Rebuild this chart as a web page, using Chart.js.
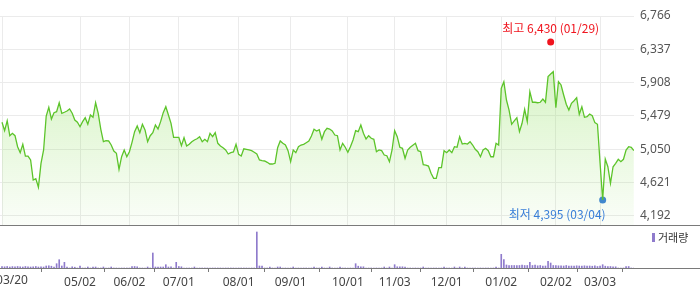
<!DOCTYPE html>
<html>
<head>
<meta charset="utf-8">
<script src="https://cdn.jsdelivr.net/npm/chart.js@4/dist/chart.umd.min.js"></script>
<style>
  body { margin: 0; background: #fff; }
  #wrap { position: relative; width: 700px; height: 289px; overflow: hidden; }
  canvas { position: absolute; left: 0; display: block; }
  #priceChart { top: 0; }
  #volChart { top: 226px; }
</style>
</head>
<body>
<div id="wrap">
  <canvas id="priceChart" width="700" height="226"></canvas>
  <canvas id="volChart" width="700" height="63"></canvas>
</div>
<script>
// daily close, 2025-03-20 .. 2026-03-20 (trading days)
var prices = [
  5396,5288,5416,5223,5254,5223,5081,5004,5112,4961,4961,4910,
  4652,4669,4558,4867,5039,5477,5589,5438,5520,5532,5648,5512,
  5525,5541,5567,5512,5425,5396,5339,5404,5455,5370,5490,5460,
  5648,5512,5306,5146,5159,5155,5103,5026,4996,4790,4952,5039,
  4952,5017,5138,5275,5348,5262,5370,5297,5146,5223,5262,5361,
  5309,5404,5520,5597,5490,5383,5202,5202,5202,5094,5197,5090,
  5112,5146,5168,5184,5210,5146,5177,5146,5254,5210,5262,5125,
  5090,5068,5039,4987,5004,5013,5112,4983,4961,5055,5048,5039,
  5030,5009,4987,4910,4901,4897,4880,4858,4858,4867,5068,5155,
  5125,5103,5030,4888,5039,5004,5081,5103,5112,5133,5155,5219,
  5306,5284,5300,5177,5275,5318,5309,5284,5232,5223,5039,5125,
  5074,5009,5081,5168,5288,5275,5361,5254,5181,5223,5190,5177,
  5017,5039,5030,4974,4965,4888,5039,5288,5210,5074,5061,4932,
  5039,5074,5099,5125,5030,5017,4849,4845,4832,4738,4674,4674,
  4811,4811,5030,5004,5039,5004,5081,5074,5210,5116,5125,5116,
  5146,5103,5048,5017,4952,5039,5061,5030,4952,4952,5125,5103,
  5834,5919,5683,5554,5370,5413,5455,5275,5383,5563,5404,5790,
  5654,5654,5648,5654,5696,5654,5984,6018,6048,5584,5919,5877,
  5748,5628,5554,5641,5674,5713,5499,5597,5460,5468,5503,5481,
  5391,5370,4871,4395,4923,4823,4609,4823,4867,4919,4888,4919,
  5039,5081,5074,5030
];
var volumes = [
  15000,12000,15000,10000,14000,12000,15000,12000,10000,15000,12000,10000,
  12000,15000,10000,12000,10000,20000,22000,18000,8000,43000,83000,20000,
  57000,10000,0,12000,8000,0,20000,0,0,10000,0,10000,
  10000,0,0,10000,0,0,10000,0,0,0,0,0,
  0,0,15000,15000,12000,0,0,0,10000,0,150000,10000,
  8000,10000,10000,33000,10000,12000,0,57000,15000,12000,0,0,
  0,0,10000,0,0,0,0,0,0,0,0,0,
  0,0,0,0,0,0,0,0,0,0,0,0,
  0,0,360000,20000,18000,0,0,10000,0,0,10000,10000,
  0,0,0,0,10000,0,0,0,0,0,0,0,
  10000,0,0,10000,0,0,10000,0,0,0,10000,0,
  0,0,0,0,43000,18000,12000,12000,0,0,0,0,
  0,0,0,10000,0,10000,0,33000,12000,12000,12000,10000,
  0,0,0,0,0,0,10000,0,0,0,0,0,
  0,0,10000,0,0,0,10000,0,10000,0,10000,0,
  0,0,0,0,0,0,0,0,0,0,10000,0,
  137000,83000,30000,25000,25000,25000,25000,25000,28000,25000,25000,57000,
  25000,28000,22000,25000,18000,20000,67000,50000,25000,25000,22000,22000,
  20000,25000,20000,20000,18000,22000,20000,18000,22000,20000,20000,18000,
  22000,15000,20000,33000,18000,15000,15000,12000,12000,0,0,0,
  15000,15000,0,0
];
// x tick positions (trading-day index) and their labels
var tickIdx = [0, 30, 49, 68, 91, 111, 133, 151, 171, 192, 213, 230];
var tickLbl = ['03/20','05/02','06/02','07/01','08/01','09/01','10/01','11/03','12/01','01/02','02/02','03/03'];
var yTicks = [4192, 4621, 5050, 5479, 5908, 6337, 6766];
// high / low markers
var hiIdx = 211, hiVal = 6430, hiText = '최고 6,430 (01/29)';
var loIdx = 231, loVal = 4395, loText = '최저 4,395 (03/04)';

var X_MIN = -0.77, X_MAX = 243.05;

var pricePts = prices.map(function(v, i){ return {x: i, y: v}; });
var volPts = volumes.map(function(v, i){ return {x: i, y: v}; });

// keep chart.js from padding the plot for half-clipped labels
function noPad(scale){
  scale.paddingLeft = 0;
  scale.paddingRight = 0;
  scale.paddingTop = 0;
  scale.paddingBottom = 0;
}

var hiloLabels = {
  id: 'hiloLabels',
  afterDatasetsDraw: function(chart){
    var c = chart.ctx, xs = chart.scales.x, ys = chart.scales.y;
    c.save();
    c.font = '12px "Noto Sans CJK KR", "Noto Sans", sans-serif';
    c.textBaseline = 'middle';
    c.fillStyle = '#f0141e';
    c.textAlign = 'center';
    c.fillText(hiText, xs.getPixelForValue(hiIdx), ys.getPixelForValue(hiVal) - 14);
    c.fillStyle = '#3a7fd8';
    c.textAlign = 'right';
    c.fillText(loText, xs.getPixelForValue(loIdx) + 3, ys.getPixelForValue(loVal) + 14);
    c.restore();
  },
  afterDraw: function(chart){
    var c = chart.ctx;
    c.save();
    c.fillStyle = '#7a7a7a';
    c.fillRect(0, chart.chartArea.bottom, chart.width, 1);
    c.restore();
  }
};

new Chart(document.getElementById('priceChart').getContext('2d'), {
  type: 'line',
  data: {
    datasets: [{
      data: pricePts,
      borderColor: '#5cc42a',
      borderWidth: 1.3,
      pointRadius: 0,
      tension: 0,
      fill: 'start',
      backgroundColor: function(context){
        var ca = context.chart.chartArea;
        if (!ca) return 'rgba(150,225,100,0.3)';
        var g = context.chart.ctx.createLinearGradient(0, ca.top, 0, ca.bottom);
        g.addColorStop(0, 'rgba(140,222,90,0.45)');
        g.addColorStop(1, 'rgba(140,222,90,0.04)');
        return g;
      }
    }, {
      data: [{x: hiIdx, y: hiVal}],
      showLine: false,
      pointRadius: 3.5,
      pointBorderWidth: 0,
      pointBackgroundColor: '#f0141e'
    }, {
      data: [{x: loIdx, y: loVal}],
      showLine: false,
      pointRadius: 3.5,
      pointBorderWidth: 0,
      pointBackgroundColor: '#3a7fd8'
    }]
  },
  options: {
    responsive: false,
    animation: false,
    layout: { autoPadding: false, padding: { top: 16, left: 0, right: 0, bottom: 1 } },
    plugins: { legend: { display: false }, tooltip: { enabled: false } },
    scales: {
      x: {
        type: 'linear',
        min: X_MIN, max: X_MAX,
        afterBuildTicks: function(scale){ scale.ticks = tickIdx.map(function(v){ return {value: v}; }); },
        afterFit: function(scale){ scale.height = 0; noPad(scale); },
        ticks: { display: false },
        grid: { color: '#ebebeb', drawTicks: false },
        border: { display: false }
      },
      y: {
        position: 'right',
        min: 4072, max: 6766,
        afterBuildTicks: function(scale){ scale.ticks = yTicks.map(function(v){ return {value: v}; }); },
        afterFit: function(scale){ scale.width = 66; noPad(scale); },
        ticks: {
          padding: 6,
          color: '#555',
          font: { family: '"Noto Sans", sans-serif', size: 12 },
          callback: function(v){ return v.toLocaleString('en-US'); }
        },
        grid: { color: '#ebebeb', drawTicks: false },
        border: { display: false }
      }
    }
  },
  plugins: [hiloLabels]
});

var volDeco = {
  id: 'volDeco',
  afterDraw: function(chart){
    var c = chart.ctx, xs = chart.scales.x;
    c.save();
    c.fillStyle = '#7a7a7a';
    c.fillRect(0, chart.chartArea.bottom, chart.width, 1);
    // first date label sits clipped at the left edge
    c.fillStyle = '#444';
    c.font = '12px "Noto Sans", sans-serif';
    c.textAlign = 'center';
    c.textBaseline = 'top';
    c.fillText(tickLbl[0], xs.getPixelForValue(tickIdx[0]) + 10, chart.chartArea.bottom + 7);
    c.fillStyle = '#8f7bcc';
    c.fillRect(652, 7, 3, 9);
    c.fillStyle = '#333';
    c.font = '11px "Noto Sans CJK KR", sans-serif';
    c.textBaseline = 'middle';
    c.textAlign = 'left';
    c.fillText('거래량', 658, 12);
    c.restore();
  }
};

new Chart(document.getElementById('volChart').getContext('2d'), {
  type: 'bar',
  data: {
    datasets: [{
      data: volPts,
      backgroundColor: '#8f7bcc',
      barThickness: 1,
      borderWidth: 0
    }]
  },
  options: {
    responsive: false,
    animation: false,
    layout: { autoPadding: false, padding: { top: 2, left: 0, right: 66, bottom: 0 } },
    plugins: { legend: { display: false }, tooltip: { enabled: false } },
    scales: {
      x: {
        type: 'linear',
        min: X_MIN, max: X_MAX,
        offset: false,
        afterBuildTicks: function(scale){ scale.ticks = tickIdx.map(function(v){ return {value: v}; }); },
        afterFit: function(scale){ scale.height = 21; noPad(scale); },
        ticks: {
          padding: 3,
          color: '#444',
          maxRotation: 0,
          font: { family: '"Noto Sans", sans-serif', size: 12 },
          callback: function(v){ return v === tickIdx[0] ? '' : tickLbl[tickIdx.indexOf(v)]; }
        },
        grid: { drawOnChartArea: false, drawTicks: true, tickLength: 4, tickColor: '#7a7a7a' },
        border: { display: false }
      },
      y: {
        display: false,
        min: 0, max: 400000
      }
    }
  },
  plugins: [volDeco]
});
</script>
</body>
</html>
